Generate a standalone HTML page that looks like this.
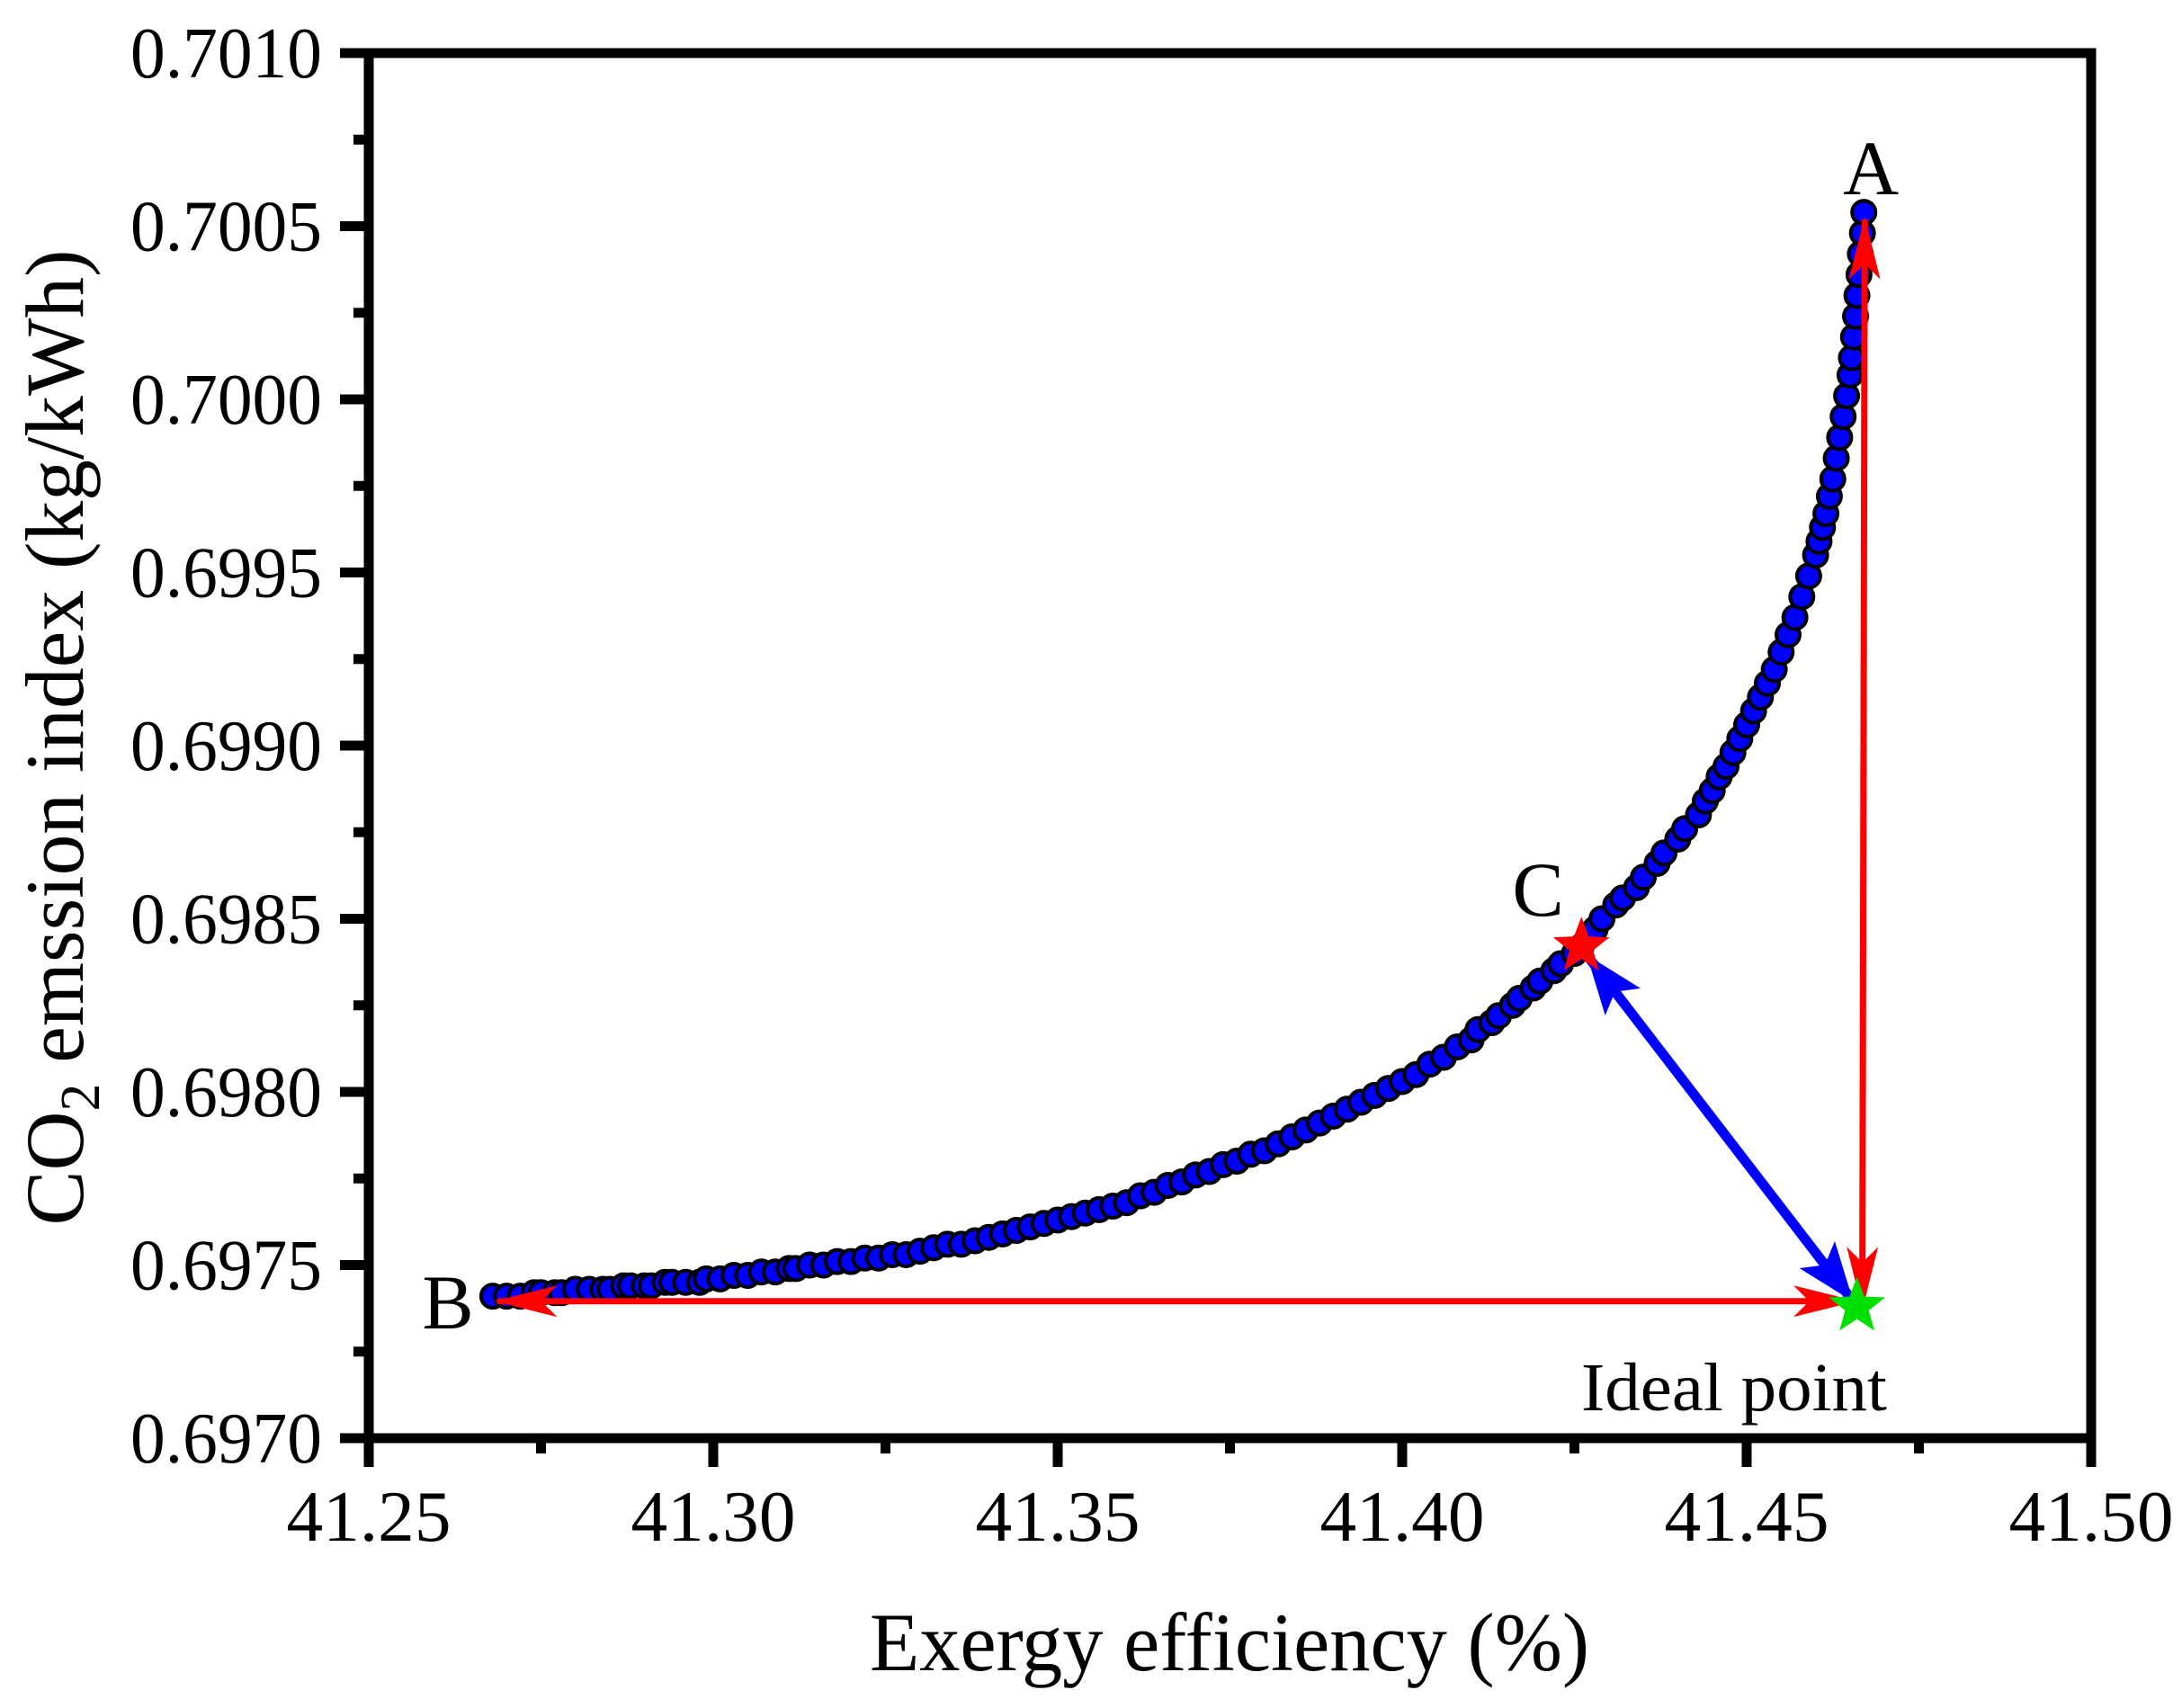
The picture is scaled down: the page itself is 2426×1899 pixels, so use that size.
<!DOCTYPE html>
<html><head><meta charset="utf-8"><style>html,body{margin:0;padding:0;background:#fff}svg{display:block}svg text{font-family:"Liberation Serif","Times New Roman",serif}</style></head>
<body>
<svg id="chart" xmlns="http://www.w3.org/2000/svg" width="2426" height="1899" viewBox="0 0 2426 1899">
<defs>
<marker id="ar" markerWidth="10" markerHeight="5" refX="9.5" refY="2.5" orient="auto-start-reverse" markerUnits="strokeWidth"><path d="M0,0 L10,2.5 L0,5 L2.5,2.5 Z" fill="#ff0000"/></marker>
<marker id="ab" markerWidth="6" markerHeight="4.5" refX="5.7" refY="2.25" orient="auto-start-reverse" markerUnits="strokeWidth"><path d="M0,0 L6,2.25 L0,4.5 L1.3,2.25 Z" fill="#0000ff"/></marker>
</defs>
<g id="marks"></g>
<g id="axes"></g>
</svg>
<script>
const xTicks = [41.25, 41.30, 41.35, 41.40, 41.45, 41.50];
const xTickLabels = ["41.25","41.30","41.35","41.40","41.45","41.50"];
const yTicks = [0.6970, 0.6975, 0.6980, 0.6985, 0.6990, 0.6995, 0.7000, 0.7005, 0.7010];
const yTickLabels = ["0.6970","0.6975","0.6980","0.6985","0.6990","0.6995","0.7000","0.7005","0.7010"];
const paretoX = [41.268,41.270,41.272,41.274,41.275,41.277,41.278,41.280,41.282,41.284,41.285,41.287,41.288,41.290,41.291,41.293,41.294,41.296,41.298,41.299,41.301,41.303,41.305,41.307,41.309,41.311,41.312,41.314,41.316,41.318,41.320,41.322,41.324,41.326,41.328,41.330,41.332,41.334,41.336,41.338,41.340,41.342,41.344,41.346,41.348,41.350,41.352,41.354,41.356,41.358,41.360,41.362,41.364,41.366,41.368,41.370,41.372,41.374,41.376,41.378,41.380,41.382,41.384,41.386,41.388,41.390,41.392,41.394,41.396,41.398,41.400,41.402,41.404,41.406,41.408,41.410,41.411,41.413,41.414,41.416,41.417,41.419,41.420,41.422,41.423,41.425,41.426,41.428,41.429,41.431,41.432,41.434,41.435,41.437,41.438,41.440,41.441,41.443,41.444,41.445,41.446,41.447,41.448,41.449,41.450,41.451,41.452,41.453,41.454,41.455,41.456,41.457,41.458,41.459,41.460,41.4605,41.461,41.4615,41.462,41.4625,41.463,41.4635,41.464,41.4645,41.465,41.4652,41.4655,41.4658,41.466,41.4663,41.4665,41.4668,41.467];
const paretoY = [0.69741,0.69741,0.69741,0.69742,0.69742,0.69742,0.69742,0.69743,0.69743,0.69743,0.69743,0.69744,0.69744,0.69744,0.69744,0.69745,0.69745,0.69745,0.69745,0.69746,0.69746,0.69747,0.69747,0.69748,0.69748,0.69749,0.69749,0.69750,0.69750,0.69751,0.69751,0.69752,0.69752,0.69753,0.69753,0.69754,0.69755,0.69756,0.69756,0.69757,0.69758,0.69759,0.69760,0.69761,0.69762,0.69763,0.69764,0.69765,0.69766,0.69767,0.69768,0.69770,0.69771,0.69773,0.69774,0.69776,0.69777,0.69779,0.69780,0.69782,0.69783,0.69785,0.69787,0.69789,0.69791,0.69793,0.69795,0.69797,0.69799,0.69801,0.69803,0.69805,0.69808,0.69810,0.69813,0.69815,0.69818,0.69820,0.69822,0.69825,0.69827,0.69830,0.69832,0.69835,0.69837,0.69840,0.69842,0.69847,0.69850,0.69854,0.69856,0.69859,0.69862,0.69866,0.69869,0.69873,0.69876,0.69880,0.69884,0.69887,0.69891,0.69894,0.69898,0.69902,0.69906,0.69910,0.69914,0.69918,0.69922,0.69927,0.69932,0.69937,0.69943,0.69949,0.69955,0.69959,0.69963,0.69967,0.69972,0.69977,0.69983,0.69989,0.69995,0.70001,0.70007,0.70012,0.70018,0.70024,0.70030,0.70036,0.70042,0.70048,0.70054];
const pointA = [41.467, 0.70054];
const pointB = [41.268, 0.69741];
const pointC = [41.426, 0.69842];
const idealPoint = [41.466, 0.69738];

const L=410,R=2325,T=59,B=1599;
const sx = v => L + (v-41.25)/(41.50-41.25)*(R-L);
const sy = v => B - (v-0.6970)/(0.7010-0.6970)*(B-T);
const NS="http://www.w3.org/2000/svg";
function mk(tag, attrs, parent){const e=document.createElementNS(NS,tag);for(const k in attrs)e.setAttribute(k,attrs[k]);parent.appendChild(e);return e;}
const marks=document.getElementById('marks'), axes=document.getElementById('axes');

for(let i=0;i<paretoX.length;i++){
  const c=mk('circle',{cx:sx(paretoX[i]),cy:sy(paretoY[i]),r:13,fill:'#0000ff',stroke:'#000',"stroke-width":4},marks);
  
  
}
function star(cx,cy,r,fill,name){
  let p=[];for(let k=0;k<10;k++){const a=-Math.PI/2+k*Math.PI/5;const rr=k%2?r*0.42:r;p.push((cx+rr*Math.cos(a)).toFixed(1)+','+(cy+rr*Math.sin(a)).toFixed(1));}
  const s=mk('polygon',{points:p.join(' '),fill:fill},marks);
  
  
}
const ix=sx(idealPoint[0]), iy=sy(idealPoint[1]);
let l1=mk('line',{x1:ix+6,y1:iy,x2:sx(pointA[0])+1,y2:sy(pointA[1])+8,stroke:'#ff0000',"stroke-width":7,"marker-start":'url(#ar)',"marker-end":'url(#ar)'},marks);


let l2=mk('line',{x1:ix-4,y1:iy-6,x2:sx(pointB[0])+5,y2:iy-6,stroke:'#ff0000',"stroke-width":7,"marker-start":'url(#ar)',"marker-end":'url(#ar)'},marks);


let l3=mk('line',{x1:sx(pointC[0])+8,y1:sy(pointC[1])+12,x2:ix-6,y2:iy-8,stroke:'#0000ff',"stroke-width":11,"marker-start":'url(#ab)',"marker-end":'url(#ab)'},marks);


star(sx(pointC[0]),sy(pointC[1]),33,'#ff0000','point-c-star');
star(ix,iy,33,'#00e000','ideal-point-star');

function txt(s,attrs,name,parent){const t=mk('text',attrs,parent||axes);t.textContent=s;return t;}
txt('A',{x:2080,y:216,"font-size":86,"text-anchor":'middle'},'label-a',marks);
txt('B',{x:498,y:1477,"font-size":86,"text-anchor":'middle'},'label-b',marks);
txt('C',{x:1710,y:1018,"font-size":86,"text-anchor":'middle'},'label-c',marks);
txt('Ideal point',{x:1928,y:1568,"font-size":76,"text-anchor":'middle',textLength:340,lengthAdjust:'spacingAndGlyphs'},'ideal-point-label',marks);

let fr=mk('rect',{x:L,y:T,width:R-L,height:B-T,fill:'none',stroke:'#000',"stroke-width":11},axes);


xTicks.forEach((v,i)=>{
  const x=sx(v);
  const t=mk('line',{x1:x,y1:B,x2:x,y2:B+32,stroke:'#000',"stroke-width":11},axes);
  
  
  if(i<xTicks.length-1){const m=mk('line',{x1:sx(v+0.025),y1:B,x2:sx(v+0.025),y2:B+17,stroke:'#000',"stroke-width":11},axes);
  
  }
  txt(xTickLabels[i],{x:x,y:1713,"font-size":80,"text-anchor":'middle',textLength:183,lengthAdjust:'spacingAndGlyphs'},'x-tick-label');
});
yTicks.forEach((v,i)=>{
  const y=sy(v);
  const t=mk('line',{x1:L,y1:y,x2:L-32,y2:y,stroke:'#000',"stroke-width":11},axes);
  
  
  if(i<yTicks.length-1){const m=mk('line',{x1:L,y1:sy(v+0.00025),x2:L-17,y2:sy(v+0.00025),stroke:'#000',"stroke-width":11},axes);
  
  }
  txt(yTickLabels[i],{x:358,y:y+27,"font-size":80,"text-anchor":'end',textLength:213,lengthAdjust:'spacingAndGlyphs'},'y-tick-label');
});
txt('Exergy efficiency (%)',{x:1367,y:1857,"font-size":92,"text-anchor":'middle',textLength:800,lengthAdjust:'spacingAndGlyphs'},'x-axis-title');
const yt=mk('text',{x:0,y:0,"font-size":92,"text-anchor":'middle',transform:'translate(92,820) rotate(-90)'},axes);


yt.innerHTML='CO<tspan font-size="62" dy="18">2</tspan><tspan dy="-18"> emssion index (kg/kWh)</tspan>';
yt.setAttribute('textLength','1085');
yt.setAttribute('lengthAdjust','spacingAndGlyphs');
</script>
</body></html>
